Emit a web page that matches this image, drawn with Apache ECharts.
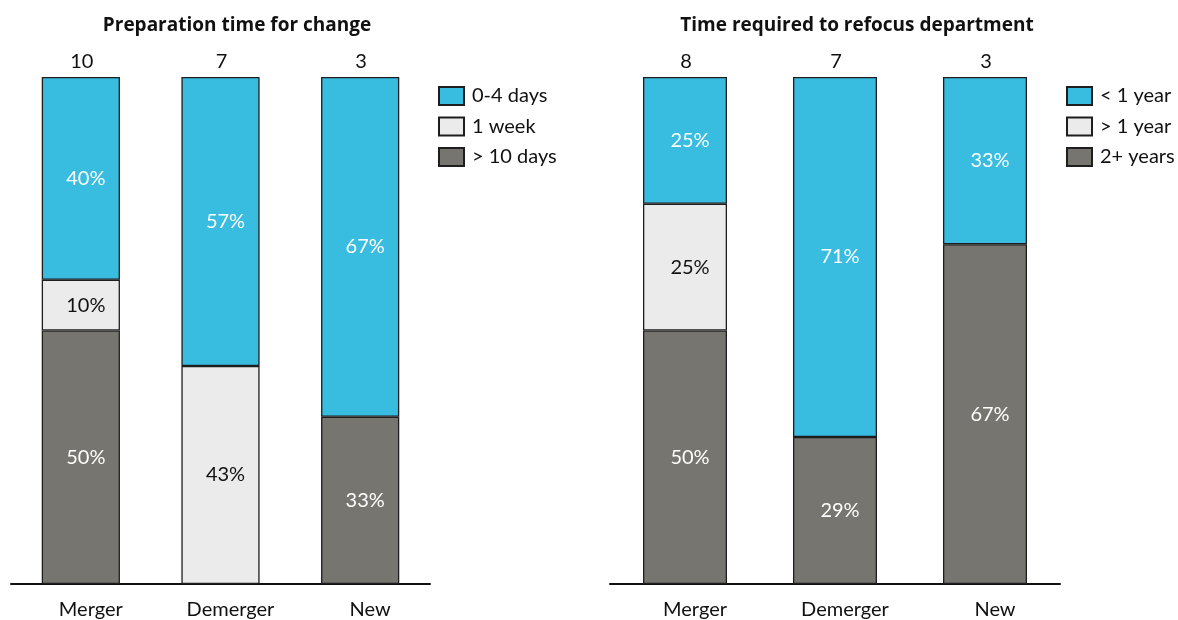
<!DOCTYPE html>
<html>
<head>
<meta charset="utf-8">
<script src="https://cdn.jsdelivr.net/npm/echarts@6/dist/echarts.min.js"></script>
<style>
  html, body { margin: 0; padding: 0; background: #fff; }
  #chart { width: 1178px; height: 620px; }
</style>
</head>
<body>
<div id="chart"></div>
<script>
// Categories shared by both panels
const categories = ['Merger', 'Demerger', 'New'];

// Panel 1: preparation time for change (share of respondents, %)
const prepCounts = [10, 7, 3];
const prepDays04 = [40, 57, 67];
const prepWeek1 = [10, 43, 0];
const prepOver10 = [50, 0, 33];

// Panel 2: time required to refocus department (share of respondents, %)
const refocusCounts = [8, 7, 3];
const refocusUnder1 = [25, 71, 33];
const refocusOver1 = [25, 0, 0];
const refocus2Plus = [50, 29, 67];

const FONT = 'Lato, "Open Sans", sans-serif';
const TITLE_FONT = '"Open Sans", Lato, sans-serif';
const BLUE = '#38bce0';
const LIGHT = '#ebebeb';
const DARK = '#77756f';
const EDGE = '#1e1e1e';

// zero shares are left out of the stack so no empty segment is drawn
const seg = arr => arr.map(v => (v === 0 ? '-' : v));

function stackSeries(name, data, color, labelColor, axisIndex, stackId) {
  return {
    name: name,
    type: 'bar',
    stack: stackId,
    xAxisIndex: axisIndex * 2,
    yAxisIndex: axisIndex,
    barWidth: '56%',
    data: seg(data),
    itemStyle: { color: color, borderColor: EDGE, borderWidth: 1.3 },
    label: {
      show: true,
      position: 'inside',
      offset: [5, 0],
      formatter: p => p.value + '%',
      color: labelColor,
      fontFamily: FONT,
      fontSize: 20
    },
    emphasis: { disabled: true },
    animation: false
  };
}

function bottomAxis(gridIndex) {
  return {
    type: 'category',
    gridIndex: gridIndex,
    data: categories,
    position: 'bottom',
    axisLine: { show: true, lineStyle: { color: '#111', width: 2 } },
    axisTick: { show: false },
    axisLabel: {
      color: '#111', fontFamily: FONT, fontSize: 20, margin: 16,
      padding: [0, 0, 0, 20]
    }
  };
}

function topAxis(gridIndex, counts) {
  return {
    type: 'category',
    gridIndex: gridIndex,
    data: counts.map(String),
    position: 'top',
    axisLine: { show: false },
    axisTick: { show: false },
    axisLabel: { color: '#111', fontFamily: FONT, fontSize: 20, margin: 5, padding: [0, 0, 0, 2] }
  };
}

function valueAxis(gridIndex) {
  return {
    type: 'value',
    gridIndex: gridIndex,
    min: 0,
    max: 100,
    show: false
  };
}

function legendAt(left, names) {
  return {
    orient: 'vertical',
    left: left,
    top: 81,
    itemWidth: 25,
    itemHeight: 18,
    itemGap: 10.5,
    icon: 'rect',
    data: names,
    textStyle: { color: '#111', fontFamily: FONT, fontSize: 20, padding: [0, 0, 0, 3] },
    selectedMode: false
  };
}

const chart = echarts.init(document.getElementById('chart'), null, { renderer: 'canvas' });

chart.setOption({
  backgroundColor: '#ffffff',
  animation: false,
  title: [
    {
      text: 'Preparation time for change',
      left: 232, top: 11, textAlign: 'center',
      textStyle: { fontFamily: TITLE_FONT, fontSize: 19, fontWeight: 'bold', color: '#111' }
    },
    {
      text: 'Time required to refocus department',
      left: 852, top: 11, textAlign: 'center',
      textStyle: { fontFamily: TITLE_FONT, fontSize: 19, fontWeight: 'bold', color: '#111' }
    }
  ],
  legend: [
    legendAt(433, ['0-4 days', '1 week', '> 10 days']),
    legendAt(1061, ['< 1 year', '> 1 year', '2+ years'])
  ],
  grid: [
    { left: 11, width: 419, top: 77, bottom: 36, containLabel: false },
    { left: 610, width: 450, top: 77, bottom: 36, containLabel: false }
  ],
  xAxis: [
    bottomAxis(0), topAxis(0, prepCounts),
    bottomAxis(1), topAxis(1, refocusCounts)
  ],
  yAxis: [valueAxis(0), valueAxis(1)],
  series: [
    stackSeries('> 10 days', prepOver10, DARK, '#ffffff', 0, 'prep'),
    stackSeries('1 week', prepWeek1, LIGHT, '#111111', 0, 'prep'),
    stackSeries('0-4 days', prepDays04, BLUE, '#ffffff', 0, 'prep'),
    stackSeries('2+ years', refocus2Plus, DARK, '#ffffff', 1, 'refocus'),
    stackSeries('> 1 year', refocusOver1, LIGHT, '#111111', 1, 'refocus'),
    stackSeries('< 1 year', refocusUnder1, BLUE, '#ffffff', 1, 'refocus')
  ]
});
</script>
</body>
</html>
